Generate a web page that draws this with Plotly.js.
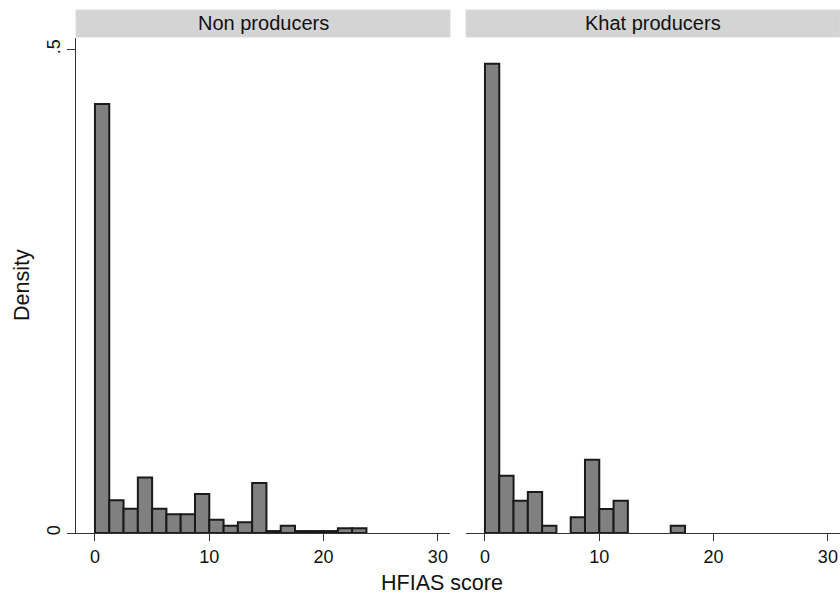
<!DOCTYPE html>
<html>
<head>
<meta charset="utf-8">
<script src="https://cdn.plot.ly/plotly-3.0.1.min.js"></script>
<style>html,body{margin:0;padding:0;background:#fff;}</style>
</head>
<body>
<div id="chart" style="width:840px;height:596px;"></div>
<script>
// Bin lower edges (HFIAS score), width 1.25
var binStarts = [0, 1.25, 2.5, 3.75, 5, 6.25, 7.5, 8.75, 10, 11.25, 12.5, 13.75, 15, 16.25, 17.5, 18.75, 20, 21.25, 22.5];
// Densities
var nonProducers = [0.4435, 0.0338, 0.0251, 0.0575, 0.0251, 0.0193, 0.0193, 0.0403, 0.0138, 0.0076, 0.011, 0.0517, 0.002, 0.0076, 0.002, 0.002, 0.002, 0.0048, 0.0048];
var khatProducers = [0.485, 0.0592, 0.0334, 0.0424, 0.0076, 0, 0.0162, 0.0757, 0.0248, 0.0334, 0, 0, 0, 0.0076, 0, 0, 0, 0, 0];
var panelTitles = ["Non producers", "Khat producers"];
var xTicks = [0, 10, 20, 30];
var yTicks = [0, 0.5];
var yTickText = ["0", ".5"];

var FONT = "Liberation Sans, Arial, Helvetica, sans-serif";
var BIN_W = 1.25;

function barTrace(vals, xa, ya) {
  return {
    type: "bar", x: binStarts, y: vals.map(function (v) { return v > 0 ? v : null; }),
    xaxis: xa, yaxis: ya,
    width: BIN_W, offset: 0,
    marker: {color: "#808080", line: {color: "#1a1a1a", width: 2}},
    hoverinfo: "x+y", showlegend: false
  };
}

var d1 = [0, 374/764];
var d2 = [390/764, 1];
var xRange = [-1.66, 31.06];
var yRange = [0, 0.5117];

var xaxisBase = {
  range: xRange, tickvals: xTicks, ticktext: xTicks.map(String),
  ticks: "outside", ticklen: 7, tickwidth: 1, tickcolor: "#333",
  showline: true, linecolor: "#333", linewidth: 1,
  showgrid: false, zeroline: false,
  tickfont: {family: FONT, size: 18, color: "#111"}
};

var layout = {
  width: 840, height: 596,
  margin: {l: 76, r: 0, t: 38, b: 63, pad: 0},
  paper_bgcolor: "#fff", plot_bgcolor: "#fff",
  bargap: 0, showlegend: false,
  xaxis: Object.assign({}, xaxisBase, {domain: d1, anchor: "y"}),
  xaxis2: Object.assign({}, xaxisBase, {domain: d2, anchor: "y2"}),
  yaxis: {
    range: yRange, tickvals: yTicks, ticktext: yTickText, tickangle: -90,
    ticks: "outside", ticklen: 8, tickwidth: 1, tickcolor: "#333",
    showline: true, linecolor: "#333", linewidth: 1,
    showgrid: false, zeroline: false, anchor: "x",
    tickfont: {family: FONT, size: 18, color: "#111"}
  },
  yaxis2: {
    range: yRange, anchor: "x2", matches: "y",
    showticklabels: false, ticks: "", showline: false,
    showgrid: false, zeroline: false
  },
  shapes: [
    {type: "rect", xref: "paper", yref: "paper", x0: d1[0], x1: d1[1], y0: 1 + 1/495, y1: 1 + 28/495,
     fillcolor: "#d4d4d4", line: {color: "#d6dde2", width: 1}, layer: "below"},
    {type: "rect", xref: "paper", yref: "paper", x0: d2[0], x1: d2[1], y0: 1 + 1/495, y1: 1 + 28/495,
     fillcolor: "#d4d4d4", line: {color: "#d6dde2", width: 1}, layer: "below"}
  ],
  annotations: [
    {text: panelTitles[0], xref: "paper", yref: "paper", x: (d1[0] + d1[1]) / 2, y: 1 + 14.5/495,
     showarrow: false, xanchor: "center", yanchor: "middle", font: {family: FONT, size: 20, color: "#111"}},
    {text: panelTitles[1], xref: "paper", yref: "paper", x: (d2[0] + d2[1]) / 2, y: 1 + 14.5/495,
     showarrow: false, xanchor: "center", yanchor: "middle", font: {family: FONT, size: 20, color: "#111"}},
    {text: "HFIAS score", xref: "paper", yref: "paper", x: (442 - 76) / 764, y: -(583 - 533) / 495,
     showarrow: false, xanchor: "center", yanchor: "middle", font: {family: FONT, size: 21.5, color: "#111"}},
    {text: "Density", xref: "paper", yref: "paper", x: (22 - 76) / 764, y: (533 - 285) / 495,
     showarrow: false, xanchor: "center", yanchor: "middle", textangle: -90, font: {family: FONT, size: 21.5, color: "#111"}}
  ]
};

Plotly.newPlot("chart", [barTrace(nonProducers, "x", "y"), barTrace(khatProducers, "x2", "y2")], layout, {staticPlot: true, displayModeBar: false});
</script>
</body>
</html>
